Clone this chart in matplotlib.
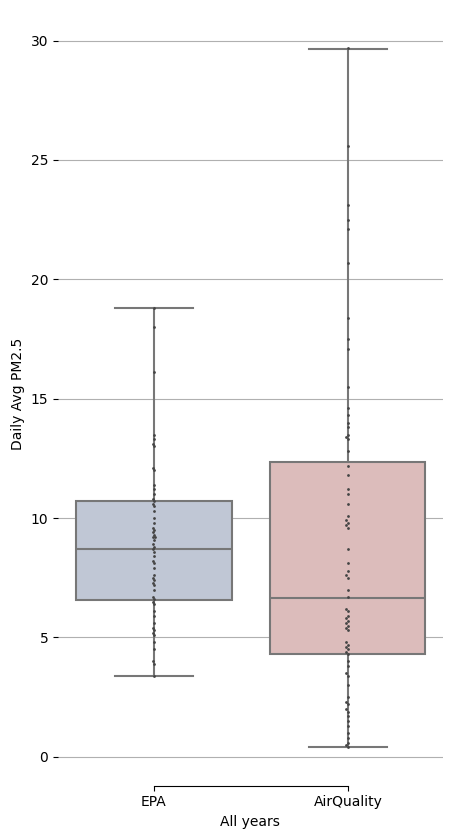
import matplotlib
matplotlib.use("Agg")
import matplotlib.pyplot as plt
import seaborn as sns
import pandas as pd

sources = ["EPA", "AirQuality"]
box_colors = ["#c0c7d5", "#dcbcbb"]

# box stats: whisker low, q1, median, q3, whisker high
epa_stats = [3.4, 6.55, 8.7, 10.7, 18.8]
aq_stats = [0.42, 4.3, 6.65, 12.35, 29.65]

epa_pts = [18.8, 18.0, 16.1, 13.5, 13.3, 13.1, 13.0, 12.1, 12.0, 11.4, 11.2, 11.0,
           10.8, 10.7, 10.6, 10.5, 10.3, 10.0, 9.8, 9.6, 9.5, 9.4, 9.3, 9.2, 9.2,
           9.1, 8.9, 8.8, 8.7, 8.6, 8.4, 8.2, 8.1, 7.9, 7.6, 7.5, 7.4, 7.3, 7.2,
           7.0, 6.7, 6.6, 6.5, 6.4, 6.1, 5.9, 5.6, 5.4, 5.3, 5.2, 5.1, 4.8, 4.5,
           4.0, 3.9, 3.4]
aq_pts = [29.7, 25.6, 23.1, 22.5, 22.1, 20.7, 18.4, 17.5, 17.1, 15.5, 14.6, 14.3,
          14.0, 13.8, 13.5, 13.4, 13.3, 12.8, 12.2, 11.8, 11.2, 11.0, 10.6, 10.1,
          9.9, 9.8, 9.7, 9.6, 8.7, 8.1, 7.8, 7.6, 7.5, 7.0, 6.7, 6.2, 6.1, 5.9,
          5.8, 5.7, 5.6, 5.5, 5.4, 5.3, 4.8, 4.7, 4.6, 4.5, 4.4, 4.3, 4.0, 3.8,
          3.5, 3.4, 3.0, 2.5, 2.3, 2.2, 2.0, 1.9, 1.7, 1.5, 1.3, 1.0, 0.8, 0.6,
          0.5, 0.4]

df = pd.DataFrame({
    "source": ["EPA"] * len(epa_pts) + ["AirQuality"] * len(aq_pts),
    "pm": epa_pts + aq_pts,
})

fig = plt.figure(figsize=(4.57, 8.36), dpi=100)
ax = fig.add_axes([0.127, 0.0718, 0.842, 0.914])

stats = []
for name, s in zip(sources, [epa_stats, aq_stats]):
    stats.append({"label": name, "whislo": s[0], "q1": s[1], "med": s[2],
                  "q3": s[3], "whishi": s[4], "fliers": []})
bp = ax.bxp(stats, positions=[0, 1], widths=0.8, patch_artist=True,
            showfliers=False,
            boxprops=dict(edgecolor="#777777", linewidth=1.5),
            medianprops=dict(color="#777777", linewidth=1.5),
            whiskerprops=dict(color="#777777", linewidth=1.5),
            capprops=dict(color="#777777", linewidth=1.5))
for patch, c in zip(bp["boxes"], box_colors):
    patch.set_facecolor(c)

sns.swarmplot(data=df, x="source", y="pm", order=sources, color="#444444",
              size=2, ax=ax)

ax.set_xlim(-0.495, 1.49)
ax.set_ylim(-0.8, 31.2)
ax.set_yticks([0, 5, 10, 15, 20, 25, 30])
ax.yaxis.grid(True, color="#b0b0b0")
ax.set_axisbelow(True)
ax.set_xlabel("All years")
ax.set_ylabel("Daily Avg PM2.5")
for side in ["top", "right", "left"]:
    ax.spines[side].set_visible(False)
ax.spines["bottom"].set_position(("outward", 7))
ax.spines["bottom"].set_bounds(0, 1)

fig.savefig("out.png")
